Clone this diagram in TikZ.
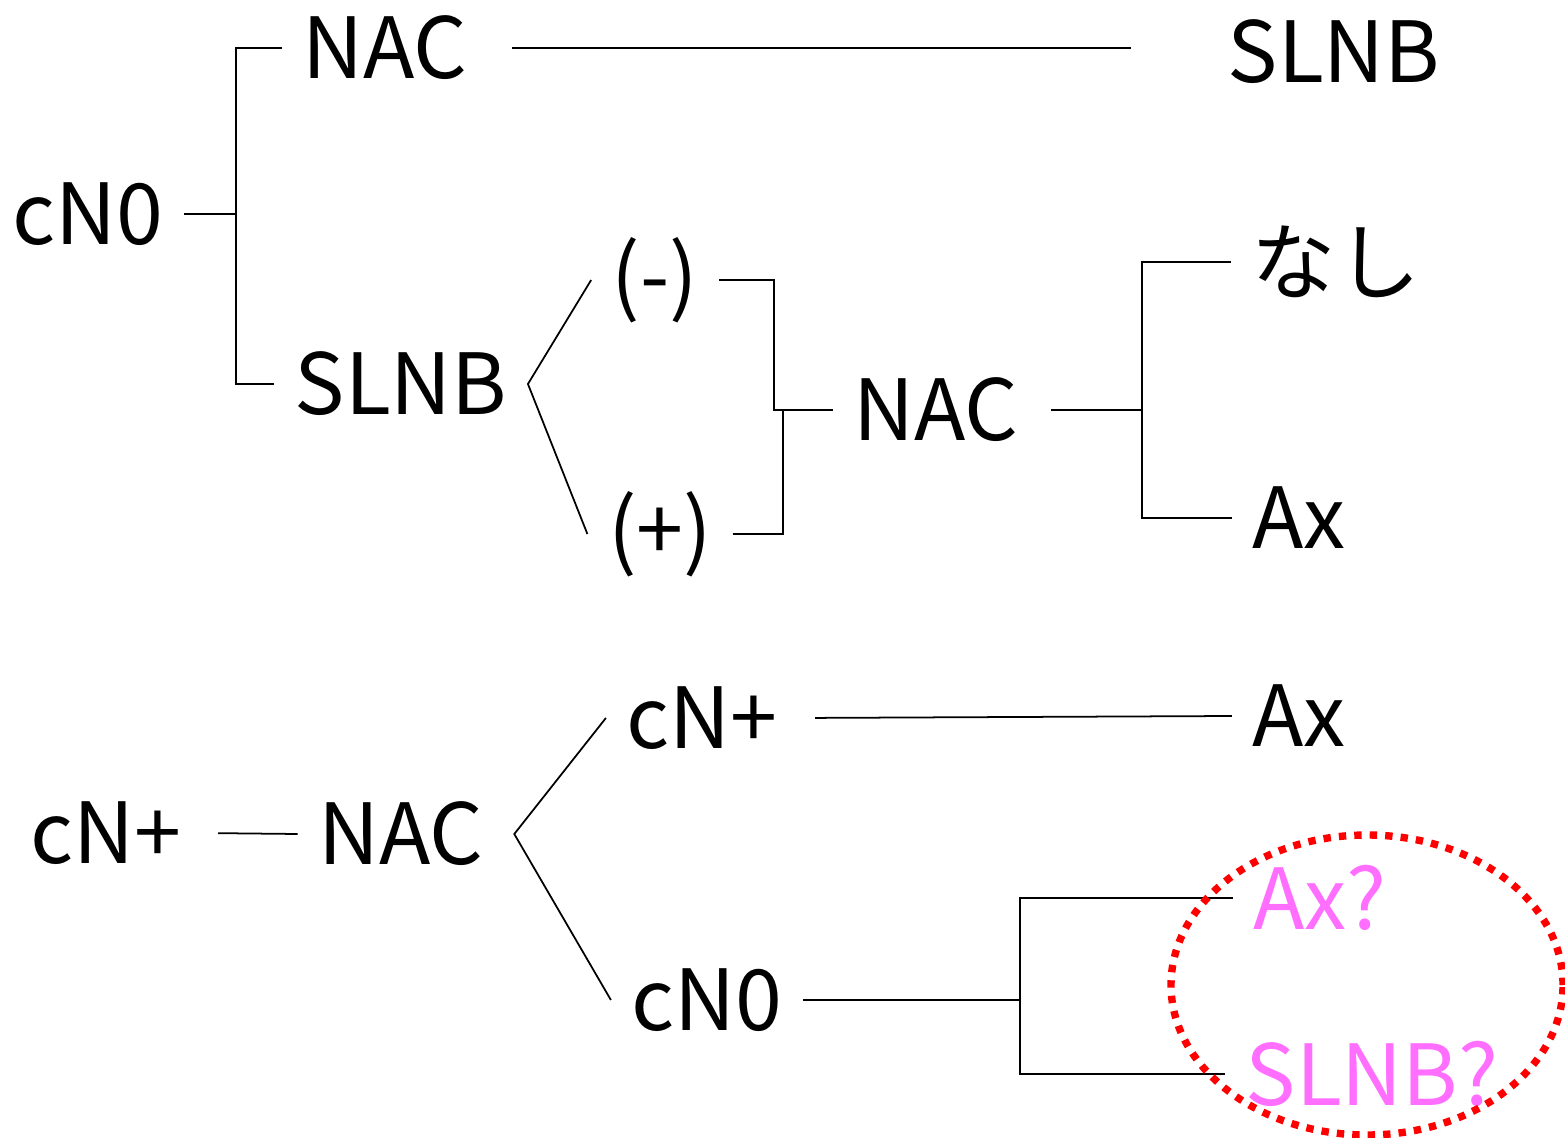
\documentclass[tikz,border=0pt]{standalone}
\usepackage{fontspec}
\setmainfont{Noto Sans CJK JP}
\usepackage{xcolor}
\usetikzlibrary{shapes.geometric}
\definecolor{guesspink}{HTML}{FF6EFF}
\definecolor{markred}{HTML}{FF0000}

\begin{document}
\begin{tikzpicture}[
    lbl/.style={inner sep=0.2cm, font=\fontsize{24}{28}\selectfont},
    guess/.style={lbl, text=guesspink},
    edge/.style={draw=black, line width=0.5pt}
  ]
    \useasboundingbox (0,0) rectangle (15.65,-11.38);

    % upper tree
    \node[lbl] (rootA) at (0.88,-2.14) {cN0};
    \node[lbl] (nacA) at (3.85,-0.48) {NAC};
    \node[lbl] (slnbA) at (13.34,-0.52) {SLNB};
    \node[lbl] (slnbB) at (4.01,-3.84) {SLNB};
    \node[lbl] (neg) at (6.55,-2.80) {(-)};
    \node[lbl] (pos) at (6.60,-5.34) {(+)};
    \node[lbl] (nacB) at (9.36,-4.10) {NAC};
    \node[lbl] (nashi) at (13.36,-2.62) {なし};
    \node[lbl] (axA) at (12.99,-5.18) {Ax};

    \draw[edge] (rootA.east) -- ++(0.52,0) |- (nacA.west);
    \draw[edge] (rootA.east) -- ++(0.52,0) |- (slnbB.west);
    \draw[edge, shorten <=0.24cm, shorten >=0.76cm] (nacA.east) -- (nacA.east -| slnbA.west);
    \draw[edge] (neg.west) -- (slnbB.east) -- (pos.west);
    \draw[edge] (neg.east) -- ++(0.55,0) |- (nacB.west);
    \draw[edge] (pos.east) -- ++(0.50,0) |- (nacB.west);
    \draw[edge, shorten <=0.12cm] (nacB.east) -- ++(1.03,0) |- (nashi.west);
    \draw[edge] (nacB.east) ++(1.03,0) |- (axA.west);

    % lower tree
    \node[lbl] (rootB) at (1.06,-8.33) {cN+};
    \node[lbl] (nacC) at (4.01,-8.34) {NAC};
    \node[lbl] (posB) at (7.02,-7.18) {cN+};
    \node[lbl] (zeroB) at (7.07,-10.00) {cN0};
    \node[lbl] (axB) at (12.99,-7.16) {Ax};
    \node[guess] (axQ) at (13.20,-8.98) {Ax?};
    \node[guess] (slnbQ) at (13.72,-10.74) {SLNB?};

    \draw[edge, shorten <=0.16cm] (rootB.east) -- (nacC.west);
    \draw[edge] (posB.west) -- ([xshift=0.1cm]nacC.east) -- (zeroB.west);
    \draw[edge, shorten <=0.17cm] (posB.east) -- (axB.west);
    \draw[edge] (zeroB.east) -- ++(2.17,0) |- (axQ.west);
    \draw[edge] (zeroB.east) ++(2.17,0) |- (slnbQ.west);

    \node[draw=markred, line width=2.1pt, dash pattern=on 2.1pt off 2.3pt,
          ellipse, minimum width=3.92cm, minimum height=3.0cm] (ring) at (13.67,-9.85) {};
\end{tikzpicture}
\end{document}
